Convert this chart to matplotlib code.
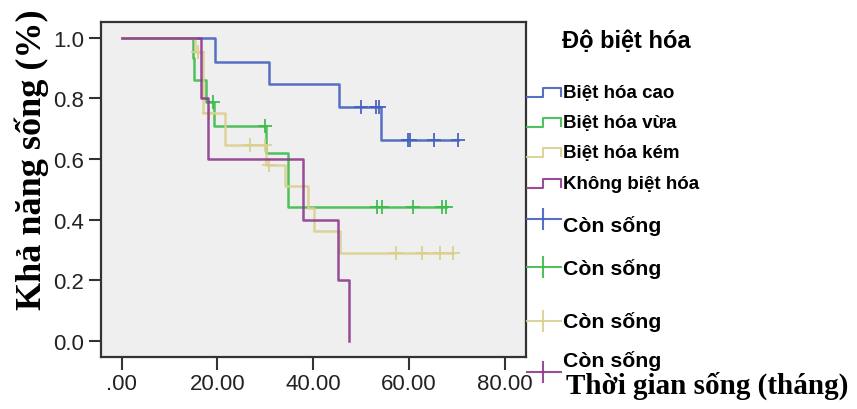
import numpy as np
import matplotlib
matplotlib.use('Agg')
import matplotlib.pyplot as plt

# step curves: times where survival changes, and the level after
cao_t = [0, 19.5, 30.8, 45.3, 54.1]
cao_s = [1.0, 0.921, 0.846, 0.772, 0.662]
cao_cens = [49.9, 53.0, 53.7, 59.7, 60.2, 65.2, 70.3]

vua_t = [0, 15.0, 15.1, 17.6, 19.3, 30.2, 34.7, 34.8]
vua_s = [1.0, 0.932, 0.860, 0.789, 0.709, 0.621, 0.533, 0.443]
vua_cens = [19.1, 29.9, 53.2, 54.4, 60.9, 66.8, 67.8]

kem_t = [0, 15.3, 16.9, 21.6, 30.2, 34.0, 38.8, 40.2, 45.6]
kem_s = [1.0, 0.952, 0.753, 0.645, 0.581, 0.511, 0.439, 0.364, 0.290]
kem_cens = [16.0, 18.3, 26.8, 30.0, 30.8, 57.2, 62.6, 66.5, 69.2]

khong_t = [0, 16.5, 18.1, 37.9, 45.2, 47.5]
khong_s = [1.0, 0.8, 0.6, 0.4, 0.2, 0.0]
khong_cens = []

group_names = ['Biệt hóa cao', 'Biệt hóa vừa', 'Biệt hóa kém', 'Không biệt hóa']
censor_label = 'Còn sống'
legend_title = 'Độ biệt hóa'
x_ticks = [0, 20, 40, 60, 80]
x_ticklabels = ['.00', '20.00', '40.00', '60.00', '80.00']
y_ticks = [0.0, 0.2, 0.4, 0.6, 0.8, 1.0]

colors = ['#4561bd', '#3dbb4c', '#d9d08f', '#8c3a8c']

W, H = 857, 410
fig = plt.figure(figsize=(W / 100, H / 100), dpi=100)
fig.patch.set_facecolor('white')

# main plot area in pixel coords
left, right, top, bottom = 101, 526, 22.7, 357.5
ax = fig.add_axes([left / W, 1 - bottom / H, (right - left) / W, (bottom - top) / H])
ax.set_facecolor('#efefef')
ax.set_xlim(-4.3, 84.4)
ax.set_ylim(-0.051, 1.053)

curves = [(cao_t, cao_s, cao_cens), (vua_t, vua_s, vua_cens),
          (kem_t, kem_s, kem_cens), (khong_t, khong_s, khong_cens)]

for (t, s, cens), col in zip(curves, colors):
    end = max([t[-1]] + cens)
    xs = list(t) + [end]
    ys = list(s) + [s[-1]]
    ax.step(xs, ys, where='post', color=col, lw=1.8, alpha=0.9)
    if cens:
        idx = np.searchsorted(t, cens, side='right') - 1
        cy = np.array(s)[idx]
        ax.plot(cens, cy, linestyle='none', marker='+', markersize=10,
                markeredgewidth=1.4, color=col, alpha=0.9)

for sp in ax.spines.values():
    sp.set_color('#333333')
    sp.set_linewidth(1.6)

tickfont = {'family': ['Liberation Sans Narrow', 'Liberation Sans', 'DejaVu Sans'], 'size': 16}
ax.set_xticks(x_ticks)
ax.set_xticklabels(x_ticklabels, fontdict=tickfont, color='#222222')
ax.set_yticks(y_ticks)
ax.set_yticklabels(['%.1f' % v for v in y_ticks], fontdict=tickfont, color='#222222')
ax.tick_params(axis='both', length=9, width=1.5, color='#333333', pad=3)

# axis titles
fig.text(32 / W, 1 - 160 / H, 'Khả năng sống (%)', rotation=90, ha='center', va='center',
         family='Liberation Serif', weight='bold', size=26)
fig.text(566 / W, 1 - 393.3 / H, 'Thời gian sống (tháng)', ha='left', va='baseline',
         family='Liberation Serif', weight='bold', size=21)

# legend drawn by hand on an overlay in pixel coordinates
lax = fig.add_axes([0, 0, 1, 1])
lax.set_xlim(0, W)
lax.set_ylim(H, 0)
lax.axis('off')
lax.patch.set_alpha(0)

sans = ['Liberation Sans', 'DejaVu Sans']
lax.text(561.7, 48.3, legend_title, ha='left', va='baseline', family=sans,
         weight='bold', size=17)

ix0, ixm, ix1 = 527.3, 543.3, 560.7
group_base = [98.3, 128.3, 158.3, 189.3]
for name, col, b in zip(group_names, colors, group_base):
    lax.plot([ix0, ixm, ixm, ix1, ix1], [b, b, b - 9.5, b - 9.5, b - 1.5],
             color=col, lw=1.5, alpha=0.9)
    lax.text(563.3, b, name, ha='left', va='baseline', family=sans,
             weight='bold', size=13.5)

cens_base = [231.7, 275.0, 328.3, 366.7]
cens_mid = [220.0, 268.3, 321.7, 373.3]
for col, b, m in zip(colors, cens_base, cens_mid):
    lax.plot([ix0, ix1], [m, m], color=col, lw=1.5, alpha=0.9)
    lax.plot([ixm, ixm], [m - 10, m + 10], color=col, lw=1.5, alpha=0.9)
    lax.text(563.3, b, censor_label, ha='left', va='baseline', family=sans,
             weight='bold', size=15.3)

fig.savefig('out.png', dpi=100)
